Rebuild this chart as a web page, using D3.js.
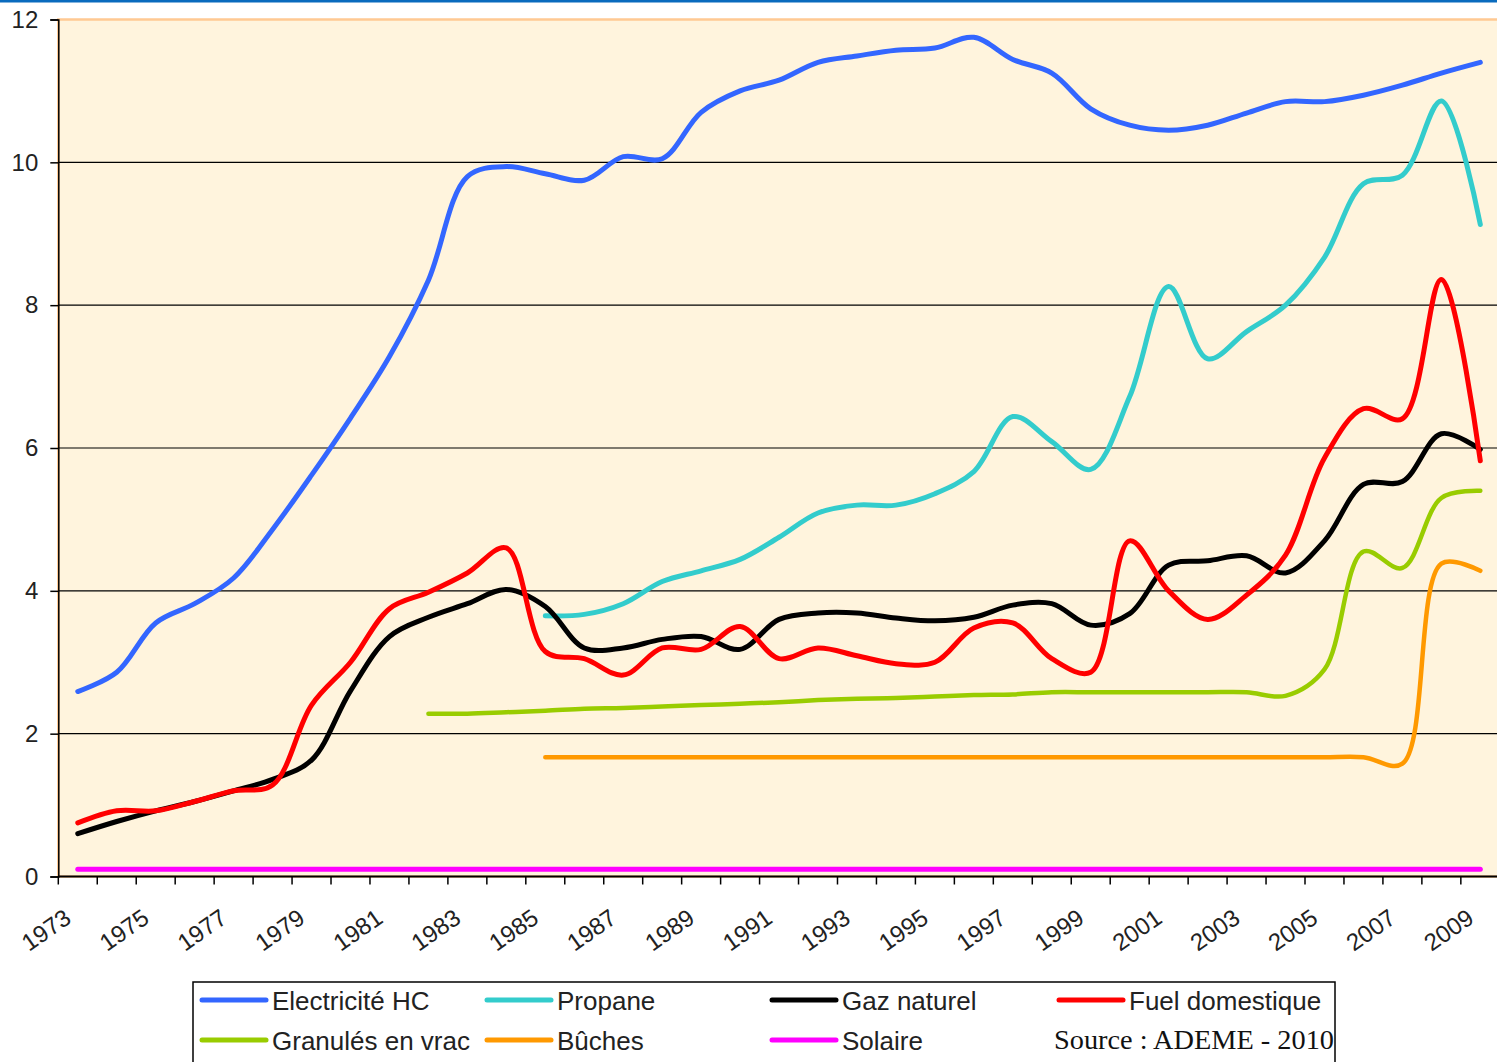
<!DOCTYPE html>
<html>
<head>
<meta charset="utf-8">
<script src="https://cdn.jsdelivr.net/npm/d3@7"></script>
<style>
  html, body { margin: 0; padding: 0; background: #ffffff; }
  svg { display: block; }
</style>
</head>
<body>
<svg id="chart" width="1497" height="1062"></svg>
<script>
// ---- Data ----
const years = d3.range(1973, 2010);
const yTicks = [0, 2, 4, 6, 8, 10, 12];
const xLabelYears = d3.range(1973, 2010, 2);

const electricite = [2.59, 2.86, 3.55, 3.82, 4.18, 4.86, 5.62, 6.42, 7.28, 8.35, 9.8, 9.94, 9.84, 9.75, 10.08, 10.05, 10.7, 11.0, 11.15, 11.4, 11.49, 11.57, 11.6, 11.75, 11.44, 11.25, 10.75, 10.52, 10.45, 10.52, 10.69, 10.85, 10.85, 10.94, 11.08, 11.25, 11.4];
const propane = [null, null, null, null, null, null, null, null, null, null, null, null, 3.65, 3.67, 3.82, 4.13, 4.28, 4.44, 4.75, 5.09, 5.2, 5.2, 5.36, 5.67, 6.44, 6.09, 5.7, 6.72, 8.26, 7.25, 7.63, 8.0, 8.67, 9.7, 9.82, 10.86, 9.13];
const gaz = [0.6, 0.77, 0.92, 1.05, 1.2, 1.36, 1.63, 2.6, 3.36, 3.63, 3.82, 4.02, 3.78, 3.2, 3.2, 3.32, 3.36, 3.18, 3.6, 3.69, 3.69, 3.62, 3.58, 3.63, 3.8, 3.82, 3.52, 3.68, 4.36, 4.42, 4.49, 4.25, 4.7, 5.49, 5.53, 6.2, 5.98];
const fuel = [0.75, 0.92, 0.92, 1.05, 1.2, 1.28, 2.4, 3.0, 3.75, 3.98, 4.25, 4.6, 3.15, 3.05, 2.82, 3.2, 3.18, 3.5, 3.05, 3.2, 3.09, 2.98, 3.0, 3.48, 3.55, 3.05, 2.86, 4.7, 4.0, 3.6, 3.94, 4.5, 5.86, 6.55, 6.41, 8.36, 5.82];
const granules = [null, null, null, null, null, null, null, null, null, 2.28, 2.28, 2.3, 2.32, 2.35, 2.36, 2.38, 2.4, 2.42, 2.44, 2.47, 2.49, 2.5, 2.52, 2.54, 2.55, 2.58, 2.58, 2.58, 2.58, 2.58, 2.58, 2.53, 2.9, 4.55, 4.32, 5.3, 5.4];
const buches = [null, null, null, null, null, null, null, null, null, null, null, null, 1.67, 1.67, 1.67, 1.67, 1.67, 1.67, 1.67, 1.67, 1.67, 1.67, 1.67, 1.67, 1.67, 1.67, 1.67, 1.67, 1.67, 1.67, 1.67, 1.67, 1.67, 1.67, 1.58, 4.38, 4.28];
const solaire = years.map(() => 0.1);

const seriesNames = ["Electricité HC", "Propane", "Gaz naturel", "Fuel domestique", "Granulés en vrac", "Bûches", "Solaire"];
const seriesColors = ["#3366FF", "#33CCCC", "#000000", "#FF0000", "#99CC00", "#FF9900", "#FF00FF"];
const seriesValues = [electricite, propane, gaz, fuel, granules, buches, solaire];
const drawOrder = [6, 5, 4, 1, 2, 3, 0];
const sourceText = "Source : ADEME - 2010";

// ---- Layout ----
const svg = d3.select("#chart");
const plotLeft = 58.3, plotRight = 1499.8, plotTop = 19.5, plotBottom = 876.5;

const x = d3.scaleBand().domain(years).range([plotLeft, plotRight]).padding(0);
const xc = yr => x(yr) + x.bandwidth() / 2;
const y = d3.scaleLinear().domain([0, 12]).range([plotBottom, plotTop]);

// top blue rule
svg.append("rect").attr("x", 0).attr("y", 0).attr("width", 1497).attr("height", 2.5).attr("fill", "#0A6BBE");

// plot background
svg.append("rect")
  .attr("x", plotLeft).attr("y", plotTop)
  .attr("width", plotRight - plotLeft).attr("height", plotBottom - plotTop)
  .attr("fill", "#FFF4DD")
  .attr("stroke", "#FFC993").attr("stroke-width", 2.5);

// gridlines
svg.append("g").selectAll("line")
  .data(yTicks.filter(t => t > 0 && t < 12))
  .join("line")
  .attr("x1", plotLeft).attr("x2", plotRight)
  .attr("y1", d => y(d)).attr("y2", d => y(d))
  .attr("stroke", "#000").attr("stroke-width", 1.2);

// y axis
const yAxis = d3.axisLeft(y).tickValues(yTicks).tickSize(8).tickPadding(12).tickFormat(d3.format("d"));
const gy = svg.append("g").attr("transform", `translate(${plotLeft},0)`).call(yAxis);
gy.select(".domain").attr("stroke", "#000").attr("stroke-width", 1.5);
gy.selectAll(".tick line").attr("stroke", "#000").attr("stroke-width", 1.5);
gy.selectAll(".tick text")
  .attr("font-family", "'Liberation Sans', Arial, sans-serif")
  .attr("font-size", 24).attr("fill", "#222");

// x axis line
svg.append("line")
  .attr("x1", plotLeft).attr("x2", plotRight)
  .attr("y1", plotBottom).attr("y2", plotBottom)
  .attr("stroke", "#000").attr("stroke-width", 1.8);

// x ticks at category boundaries
const boundaries = years.map(yr => x(yr)).concat([plotRight]);
svg.append("g").selectAll("line")
  .data(boundaries)
  .join("line")
  .attr("x1", d => d).attr("x2", d => d)
  .attr("y1", plotBottom).attr("y2", plotBottom + 8)
  .attr("stroke", "#000").attr("stroke-width", 1.5);

// x labels
svg.append("g").selectAll("text")
  .data(xLabelYears)
  .join("text")
  .attr("transform", d => `translate(${xc(d) - 5},${plotBottom + 45}) rotate(-35)`)
  .attr("text-anchor", "end")
  .attr("font-family", "'Liberation Sans', Arial, sans-serif")
  .attr("font-size", 24)
  .attr("fill", "#222")
  .text(d => d);

// lines
const line = d3.line()
  .defined(d => d.v !== null)
  .x(d => xc(d.yr))
  .y(d => y(d.v))
  .curve(d3.curveCatmullRom.alpha(0.5));

const gLines = svg.append("g");
drawOrder.forEach(i => {
  const data = years.map((yr, k) => ({ yr, v: seriesValues[i][k] }));
  gLines.append("path")
    .datum(data)
    .attr("d", line)
    .attr("fill", "none")
    .attr("stroke", seriesColors[i])
    .attr("stroke-width", (i === 4 || i === 5) ? 4.5 : 5)
    .attr("stroke-linejoin", "round")
    .attr("stroke-linecap", "round");
});

// legend
const lg = svg.append("g");
lg.append("rect")
  .attr("x", 193).attr("y", 982)
  .attr("width", 1142).attr("height", 100)
  .attr("fill", "#fff").attr("stroke", "#000").attr("stroke-width", 1.5);

const colX = [200, 485, 770, 1057];
const rowY = [1000, 1040];
seriesNames.forEach((name, i) => {
  const col = i % 4, row = Math.floor(i / 4);
  const sx = colX[col], sy = rowY[row];
  lg.append("line")
    .attr("x1", sx + 2).attr("x2", sx + 66)
    .attr("y1", sy).attr("y2", sy)
    .attr("stroke", seriesColors[i]).attr("stroke-width", 5)
    .attr("stroke-linecap", "round");
  lg.append("text")
    .attr("x", sx + 72).attr("y", sy + 10)
    .attr("font-family", "'Liberation Sans', Arial, sans-serif")
    .attr("font-size", 26).attr("fill", "#222")
    .text(name);
});
lg.append("text")
  .attr("x", 1054).attr("y", 1049)
  .attr("font-family", "'Liberation Serif', 'Times New Roman', serif")
  .attr("font-size", 27).attr("fill", "#111")
  .attr("textLength", 280).attr("lengthAdjust", "spacingAndGlyphs")
  .text(sourceText);
</script>
</body>
</html>
